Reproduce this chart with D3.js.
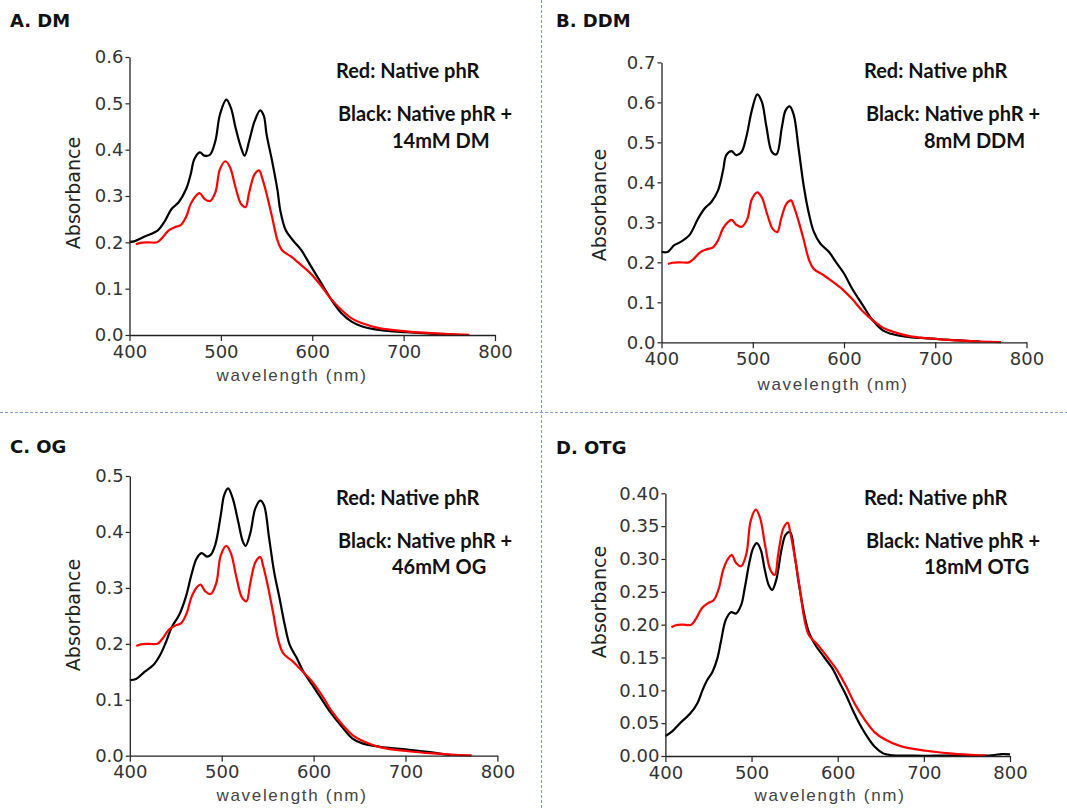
<!DOCTYPE html>
<html>
<head>
<meta charset="utf-8">
<script src="https://cdn.jsdelivr.net/npm/d3@7"></script>
<style>
  html, body { margin: 0; padding: 0; background: #fff; }
  svg { display: block; }
</style>
</head>
<body>
<svg id="chart" width="1067" height="810"></svg>
<script>
// ---------------- DATA ----------------
const panelTitles = ["A. DM", "B. DDM", "C. OG", "D. OTG"];
const blackLabels = ["14mM DM", "8mM DDM", "46mM OG", "18mM OTG"];
const redLegend = "Red: Native phR";
const blackLegend = "Black: Native phR +";

// Native phR (red) - same spectrum in all panels
const redNm  = [407,412,420,430,435,443,450,456,462,467,473,477,482,488,494,499,505,510,516,522,527,531,537,542,545,550,556,562,567,577,586,598,609,620,632,643,654,673,703,730,750,772];
const redAbs = [0.196,0.199,0.2,0.2,0.208,0.226,0.233,0.237,0.255,0.283,0.301,0.306,0.294,0.289,0.308,0.358,0.375,0.362,0.319,0.283,0.276,0.308,0.347,0.355,0.34,0.305,0.255,0.204,0.183,0.169,0.154,0.133,0.108,0.079,0.054,0.036,0.026,0.015,0.008,0.004,0.002,0.0005];

// Black curves: native phR + detergent
const dmNm  = [400,405,416,431,439,446,454,462,467,471,477,482,488,494,499,506,511,516,522,526,531,537,543,547,550,556,562,565,571,579,588,599,609,620,632,643,654,673,703,730,754];
const dmAbs = [0.201,0.202,0.212,0.226,0.247,0.272,0.287,0.315,0.347,0.38,0.394,0.387,0.389,0.419,0.476,0.508,0.49,0.448,0.405,0.387,0.419,0.462,0.485,0.473,0.433,0.376,0.312,0.269,0.226,0.204,0.183,0.147,0.115,0.079,0.047,0.029,0.019,0.011,0.006,0.003,0.0015];

const ddmNm  = [400,406.6,414,421,430.6,440,447,454.6,462,467.5,471,476.7,482,487.7,493,499,505,510,515,521,526,532,536,540.5,545,550,556,561.5,567,574,583.6,591,600,609,620.5,631.5,642.6,653.7,672,690.5,709,731,749.5];
const ddmAbs = [0.226,0.226,0.243,0.251,0.268,0.309,0.334,0.351,0.38,0.43,0.468,0.478,0.468,0.476,0.514,0.58,0.62,0.601,0.539,0.476,0.47,0.539,0.58,0.59,0.568,0.489,0.389,0.322,0.276,0.247,0.226,0.201,0.172,0.134,0.093,0.055,0.03,0.02,0.013,0.01,0.007,0.004,0.002];

const ogNm  = [400,406.8,416,425.6,433,438.8,446,453.8,461,467,472.6,478,484,488,493,499,502.7,507,512,518,523,526,531,536.6,542,546,551.6,557,563,568.6,574,581.8,589,598.7,608,619,630.7,642,653,672,702,728.5,749];
const ogAbs = [0.135,0.137,0.15,0.162,0.18,0.201,0.231,0.252,0.284,0.323,0.352,0.362,0.356,0.359,0.377,0.43,0.466,0.478,0.46,0.418,0.383,0.375,0.397,0.442,0.456,0.448,0.389,0.329,0.281,0.234,0.198,0.174,0.15,0.126,0.103,0.076,0.052,0.031,0.022,0.016,0.011,0.006,0.001];

const otgNm  = [400,407.5,417,429,437,443,448.7,454.6,460.4,464.4,470,476,482,488,492,497.7,501.7,506,510.7,515,520,524,529,535,539.7,544.8,550,554.6,560.5,566.4,574,584,594,601.7,609.6,617.4,625,633,643,652.8,660.6,688,730,766.6,782,790,800];
const otgAbs = [0.0305,0.037,0.05,0.065,0.08,0.1,0.116,0.128,0.149,0.174,0.207,0.219,0.217,0.23,0.255,0.296,0.316,0.324,0.314,0.286,0.26,0.253,0.27,0.316,0.337,0.341,0.306,0.265,0.22,0.189,0.169,0.151,0.133,0.113,0.093,0.07,0.05,0.032,0.014,0.004,0.0015,0.0005,0.0005,0.0005,0.0015,0.003,0.0025];

const xTicks = [400, 500, 600, 700, 800];
const yMax = [0.6, 0.7, 0.5, 0.4];
const yStep = [0.1, 0.1, 0.1, 0.05];
const yFormat = [".1f", ".1f", ".1f", ".2f"];
const blackNm = [dmNm, ddmNm, ogNm, otgNm];
const blackAbs = [dmAbs, ddmAbs, ogAbs, otgAbs];

// ---------------- LAYOUT ----------------
const layout = [
  {x0:129.5, x1:495,   y0:335,   y1:57,   title:[10,27],  leg:[336,78,121,392,148],  ylab:[80,193],  xlab:[292,381]},
  {x0:661.5, x1:1026.5,y0:342.3, y1:62.4, title:[556,27], leg:[864,78,121,924,148],  ylab:[606,205], xlab:[833,390]},
  {x0:129.8, x1:497.4, y0:755.7, y1:476,  title:[10,453], leg:[336,505,548,392,574], ylab:[80,615],  xlab:[292,801]},
  {x0:665.4, x1:1010,  y0:756,   y1:493.3,title:[556,454],leg:[864,505,548,924,574], ylab:[606,602], xlab:[830,801]}
];

const svg = d3.select("#chart");

// separators
svg.append("line").attr("x1",541.5).attr("x2",541.5).attr("y1",0).attr("y2",810)
  .attr("stroke","#7f9fd3").attr("stroke-width",1).attr("stroke-dasharray","3,2");
svg.append("line").attr("x1",0).attr("x2",1067).attr("y1",412.5).attr("y2",412.5)
  .attr("stroke","#7f9fd3").attr("stroke-width",1).attr("stroke-dasharray","3,2");

const tickFont = "'DejaVu Sans', sans-serif";
const labFont = "'Liberation Sans', Arial, sans-serif";
const legFont = "Lato, 'Open Sans', sans-serif";

layout.forEach((L, i) => {
  const g = svg.append("g");
  const x = d3.scaleLinear().domain([400, 800]).range([L.x0, L.x1]);
  const y = d3.scaleLinear().domain([0, yMax[i]]).range([L.y0, L.y1]);
  const nT = Math.round(yMax[i] / yStep[i]);
  const yTicks = d3.range(nT + 1).map(k => +(k * yStep[i]).toFixed(3));

  const line = d3.line().x(d => x(d[0])).y(d => y(d[1])).curve(d3.curveCatmullRom.alpha(0.5));

  // curves (black first, red on top)
  g.append("path").datum(blackNm[i].map((v, k) => [v, blackAbs[i][k]]))
    .attr("d", line).attr("fill","none").attr("stroke","#000").attr("stroke-width",2.2);
  g.append("path").datum(redNm.map((v, k) => [v, redAbs[k]]))
    .attr("d", line).attr("fill","none").attr("stroke","#ff0000").attr("stroke-width",2.2);

  // axes
  const xa = g.append("g").attr("transform", `translate(0,${L.y0})`)
    .call(d3.axisBottom(x).tickValues(xTicks).tickSize(6).tickPadding(4).tickSizeOuter(0));
  const ya = g.append("g").attr("transform", `translate(${L.x0},0)`)
    .call(d3.axisLeft(y).tickValues(yTicks).tickFormat(d3.format(yFormat[i])).tickSize(4).tickPadding(2).tickSizeOuter(0));
  [xa, ya].forEach(a => {
    a.select(".domain").attr("stroke","#222").attr("stroke-width",1.3);
    a.selectAll(".tick line").attr("stroke","#222").attr("stroke-width",1.2);
    a.selectAll(".tick text").attr("fill","#333").attr("font-family",tickFont).attr("font-size",18);
  });

  // title
  svg.append("text").attr("x", L.title[0]).attr("y", L.title[1])
    .attr("font-family", "'DejaVu Sans', sans-serif").attr("font-weight","bold").attr("font-size",18).attr("fill","#111")
    .text(panelTitles[i]);

  // legend texts
  const lg = svg.append("g").attr("font-family", legFont).attr("font-weight","bold").attr("font-size",20).attr("fill","#111");
  lg.append("text").attr("x", L.leg[0]).attr("y", L.leg[1]).text(redLegend);
  lg.append("text").attr("x", L.leg[0] + 2).attr("y", L.leg[2]).text(blackLegend);
  lg.append("text").attr("x", L.leg[3]).attr("y", L.leg[4]).text(blackLabels[i]);

  // axis labels
  svg.append("text").attr("transform", `translate(${L.ylab[0]},${L.ylab[1]}) rotate(-90)`)
    .attr("text-anchor","middle").attr("font-family", tickFont).attr("font-size",19).attr("fill","#222")
    .text("Absorbance");
  svg.append("text").attr("x", L.xlab[0]).attr("y", L.xlab[1])
    .attr("text-anchor","middle").attr("font-family", labFont).attr("font-size",17)
    .attr("letter-spacing","1.7px").attr("fill","#444")
    .text("wavelength (nm)");
});
</script>
</body>
</html>
